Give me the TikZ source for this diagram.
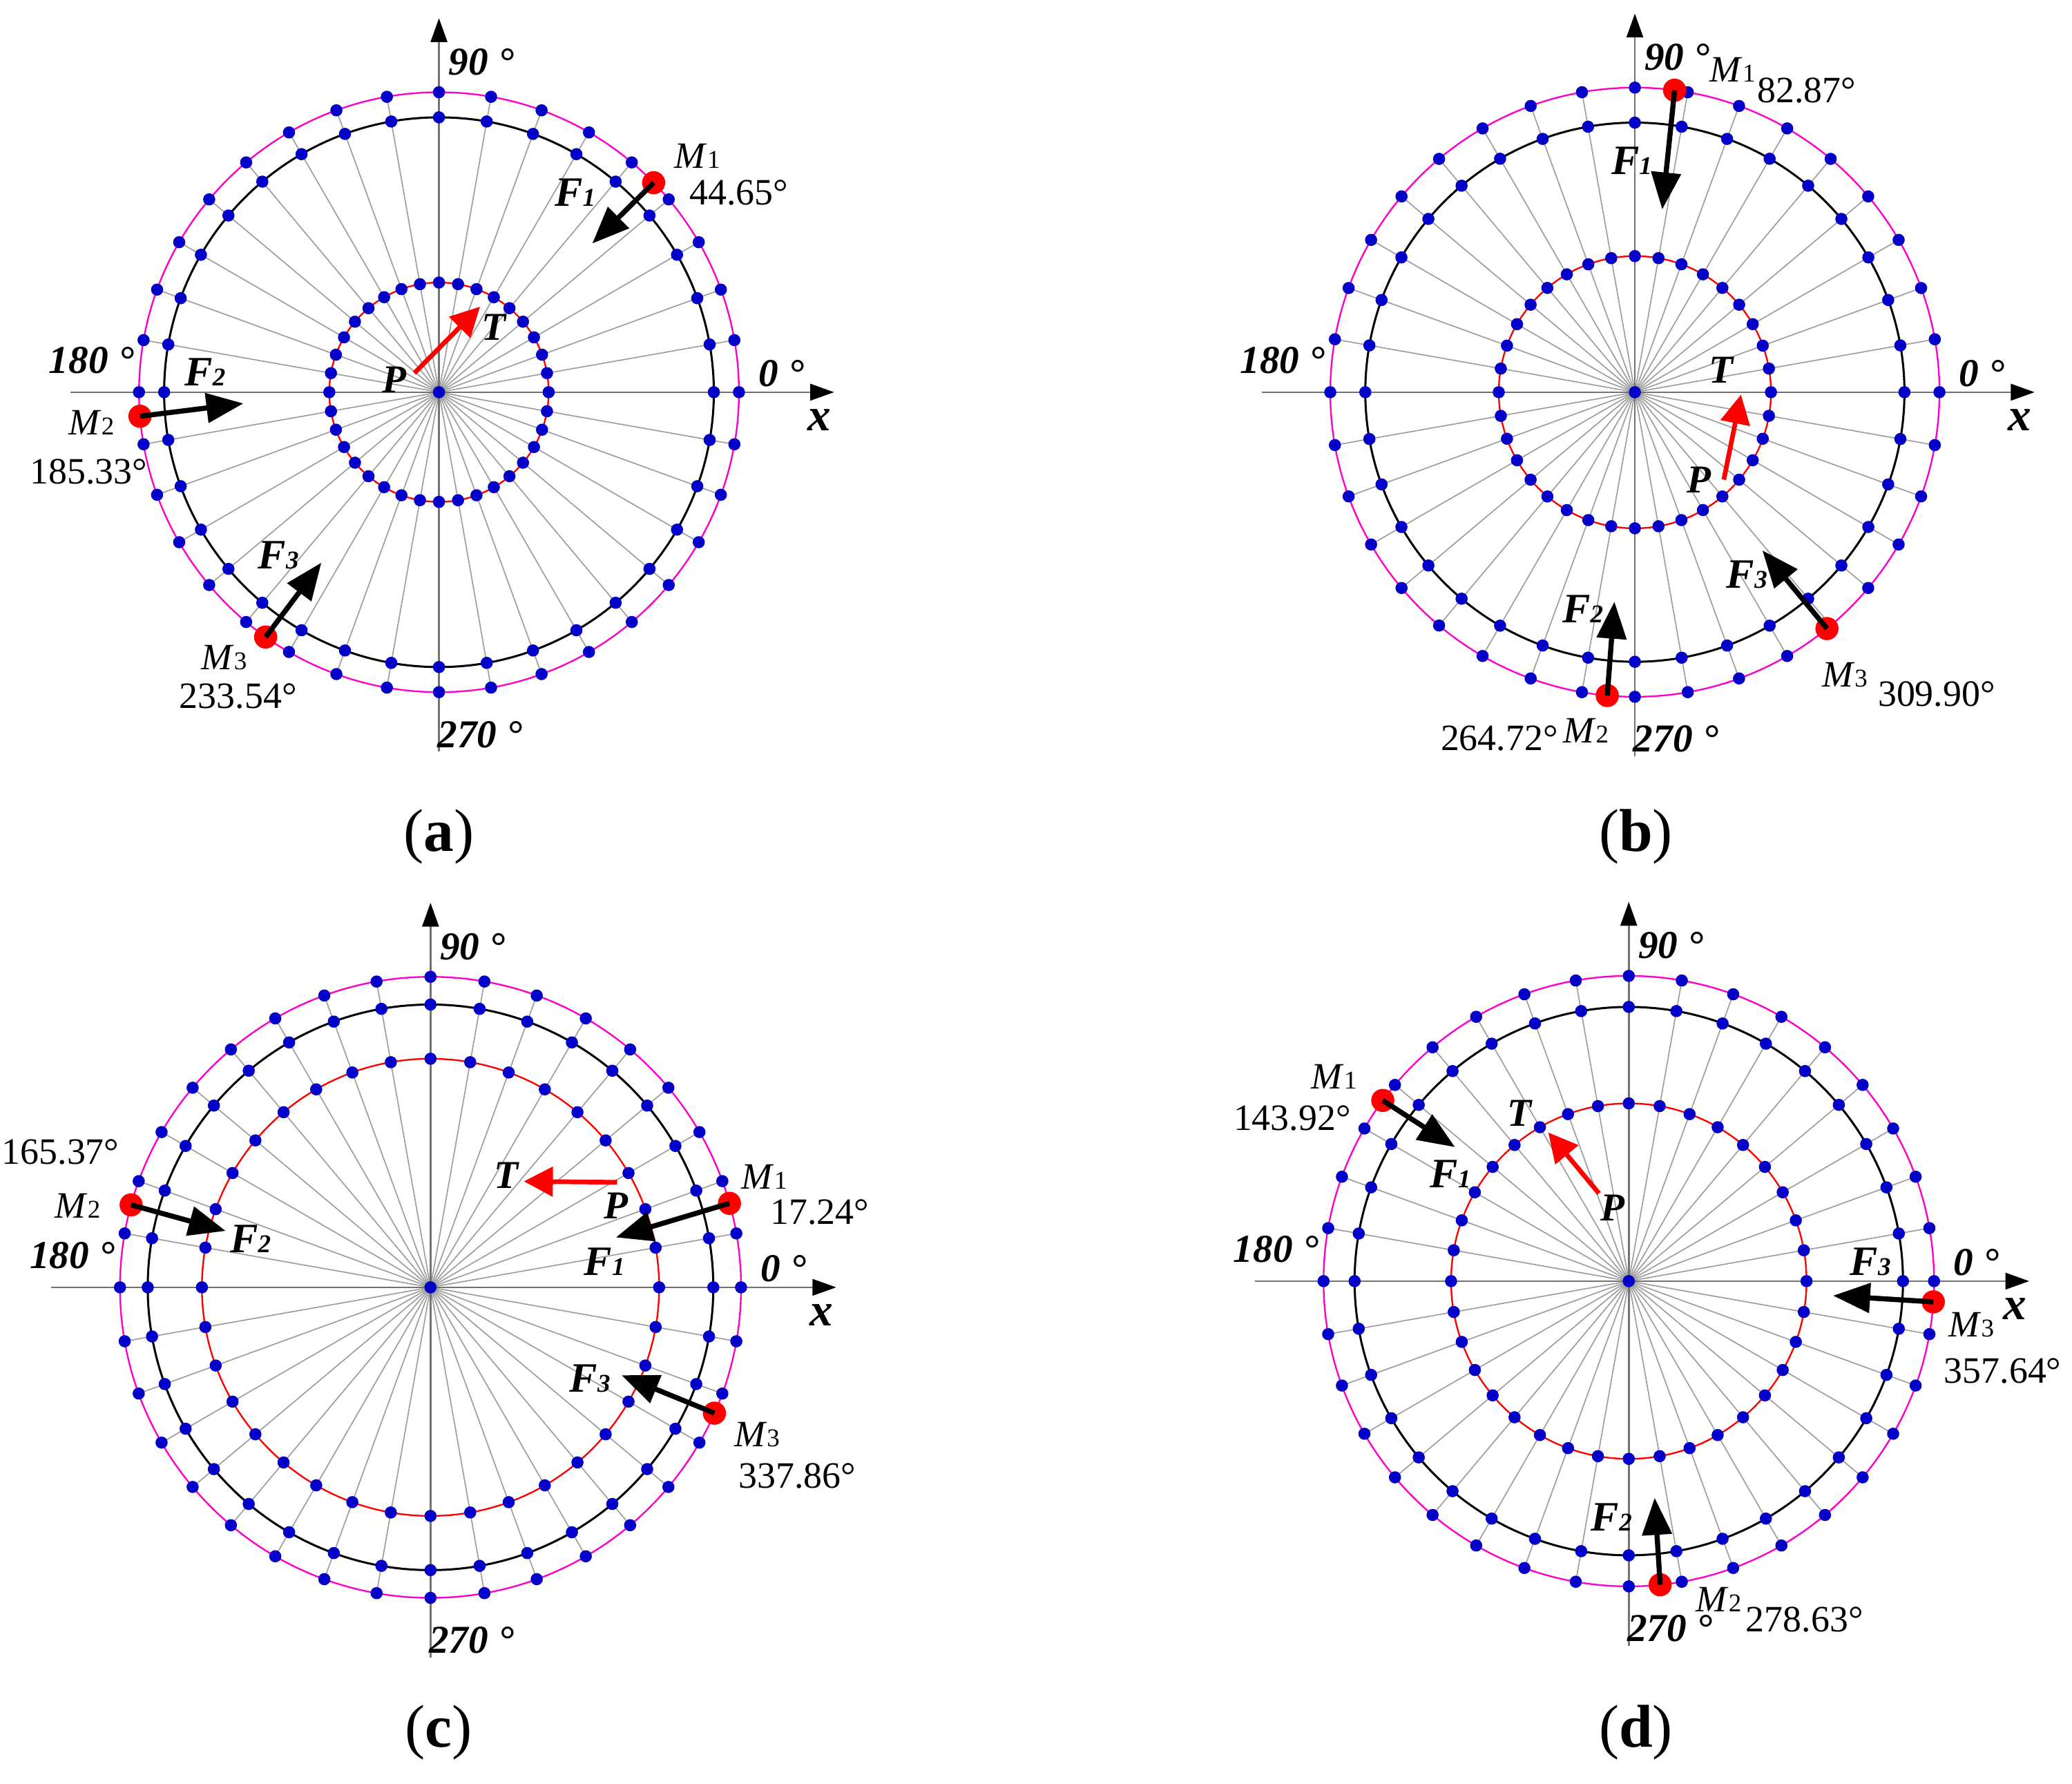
\documentclass[tikz,border=0pt]{standalone}
\usepackage{fontspec}
\setmainfont{Liberation Serif}
\usetikzlibrary{arrows.meta}

\definecolor{dotblue}{RGB}{0,0,200}
\definecolor{ringpink}{RGB}{255,0,200}

\newcommand{\subidx}[1]{{\fontsize{5.5}{6}\selectfont #1}}

% spokes, rings, dots, axes and axis labels of one panel
% #1 inner radius, #2 middle radius, #3 outer radius, #4 panel letter
\newcommand{\ringgrid}[4]{%
    \foreach \angv in {0,10,...,350}
        \draw [spoke] (0,0) -- (\angv:#3);
    \draw [innerring] (0,0) circle [radius=#1];
    \draw [midring] (0,0) circle [radius=#2];
    \draw [outerring] (0,0) circle [radius=#3];
    \draw [axisline] (-#3-52,0) -- (#3+72,0);
    \draw [axisline] (0,-#3-45) -- (0,#3+56);
    \foreach \angv in {0,10,...,350} {
        \fill [dotblue] (\angv:#1) circle [radius=4.6];
        \fill [dotblue] (\angv:#2) circle [radius=4.6];
        \fill [dotblue] (\angv:#3) circle [radius=4.6];
    }
    \fill [dotblue] (0,0) circle [radius=4.6];
    \node [axlbl] (deg0#4) at (#3+32,14) {0 °};
    \node [axlbl] (deg90#4) at (32,#3+23) {90 °};
    \node [axlbl] (deg180#4) at (-#3-36,24) {180 °};
    \node [axlbl] (deg270#4) at (31,-#3-32) {270 °};
    \node [xlbl] (xname#4) at (#3+61,-21) {x};
}

\begin{document}
\begin{tikzpicture}[
        x=0.01cm, y=0.01cm,
        spoke/.style = {draw=black!38, line width=0.25pt},
        innerring/.style = {draw=red, line width=0.35pt},
        midring/.style = {draw=black, line width=0.45pt},
        outerring/.style = {draw=ringpink, line width=0.35pt},
        axisline/.style = {draw=black!55, line width=0.4pt, -{Triangle[length=0.18cm, width=0.125cm, color=black]}},
        mdot/.style = {circle, fill=red, inner sep=0pt, minimum size=0.175cm},
        force/.style = {draw=black, line width=1.1pt, -{Triangle[length=0.28cm, width=0.22cm]}},
        torque/.style = {draw=red, line width=1pt, -{Triangle[length=0.22cm, width=0.22cm]}},
        axlbl/.style = {font=\fontsize{8.5}{10}\selectfont\bfseries\itshape},
        xlbl/.style = {font=\fontsize{10}{12}\selectfont\bfseries\itshape},
        flbl/.style = {font=\fontsize{9}{11}\selectfont\bfseries\itshape},
        ptlbl/.style = {font=\fontsize{8.5}{10}\selectfont\bfseries\itshape},
        mlbl/.style = {font=\fontsize{8}{9.6}\selectfont},
        anglbl/.style = {font=\fontsize{8}{9.6}\selectfont},
        caplbl/.style = {font=\fontsize{13}{15}\selectfont}
    ]
    \useasboundingbox (0,0) rectangle (1568,1350);

    % (a)
    \begin{scope}[shift={(332.2,1053.2)}]
        \ringgrid{83}{208}{227}{a}
        \node [mdot] (ma1) at (44.3:227) {};
        \node [mdot] (ma2) at (184.6:227) {};
        \node [mdot] (ma3) at (234.7:227) {};
        \coordinate (fa1) at (116,112.5);
        \coordinate (fa2) at (-148,-8.5);
        \coordinate (fa3) at (-89,-129);
        \path [force] (ma1.center) -- (fa1);
        \path [force] (ma2.center) -- (fa2);
        \path [force] (ma3.center) -- (fa3);
        \coordinate (pa) at (-18.6,14.5);
        \coordinate (ta) at (31.1,64.7);
        \path [torque] (pa) -- (ta);
        \node [flbl] (lfa1) at (103,151) {F\subidx{1}};
        \node [flbl] (lfa2) at (-177,15) {F\subidx{2}};
        \node [flbl] (lfa3) at (-121.5,-123.5) {F\subidx{3}};
        \node [mlbl] (lma1) at (195.6,178.8) {\textit{M}\subidx{1}};
        \node [mlbl] (lma2) at (-263,-23) {\textit{M}\subidx{2}};
        \node [mlbl] (lma3) at (-162.6,-201) {\textit{M}\subidx{3}};
        \node [anglbl] (aa1) at (227,151) {44.65°};
        \node [anglbl] (aa2) at (-265,-60) {185.33°};
        \node [anglbl] (aa3) at (-152,-230) {233.54°};
        \node [ptlbl] (lpa) at (-34,9.3) {P};
        \node [ptlbl] (lta) at (41.6,49.4) {T};
    \end{scope}

    % (b)
    \begin{scope}[shift={(1237.2,1053.2)}]
        \ringgrid{103}{204}{230.5}{b}
        \node [mdot] (mb1) at (82.5:230.5) {};
        \node [mdot] (mb2) at (264.8:230.5) {};
        \node [mdot] (mb3) at (309.1:230.5) {};
        \coordinate (fb1) at (20.7,138.3);
        \coordinate (fb2) at (-15.5,-158.5);
        \coordinate (fb3) at (96.5,-119.7);
        \path [force] (mb1.center) -- (fb1);
        \path [force] (mb2.center) -- (fb2);
        \path [force] (mb3.center) -- (fb3);
        \coordinate (pb) at (67.3,-66.2);
        \coordinate (tb) at (80.3,-1.8);
        \path [torque] (pb) -- (tb);
        \node [flbl] (lfb1) at (-2.4,175.2) {F\subidx{1}};
        \node [flbl] (lfb2) at (-39.4,-164) {F\subidx{2}};
        \node [flbl] (lfb3) at (84.8,-138.2) {F\subidx{3}};
        \node [mlbl] (lmb1) at (74,244) {\textit{M}\subidx{1}};
        \node [mlbl] (lmb2) at (-37,-256) {\textit{M}\subidx{2}};
        \node [mlbl] (lmb3) at (158.8,-213.8) {\textit{M}\subidx{3}};
        \node [anglbl] (ab1) at (130,228.6) {82.87°};
        \node [anglbl] (ab2) at (-102.6,-261.7) {264.72°};
        \node [anglbl] (ab3) at (228.3,-228.5) {309.90°};
        \node [ptlbl] (lpb) at (48.6,-66.2) {P};
        \node [ptlbl] (ltb) at (65.1,16.6) {T};
    \end{scope}

    % (c)
    \begin{scope}[shift={(325.8,375.8)}]
        \ringgrid{173}{214}{235}{c}
        \node [mdot] (mc1) at (15.7:235) {};
        \node [mdot] (mc2) at (164.6:235) {};
        \node [mdot] (mc3) at (336.1:235) {};
        \coordinate (fc1) at (140.3,37.8);
        \coordinate (fc2) at (-155,42.7);
        \coordinate (fc3) at (144.6,-66.5);
        \path [force] (mc1.center) -- (fc1);
        \path [force] (mc2.center) -- (fc2);
        \path [force] (mc3.center) -- (fc3);
        \coordinate (pc) at (141.2,79.5);
        \coordinate (tc) at (70.6,80.2);
        \path [torque] (pc) -- (tc);
        \node [flbl] (lfc1) at (131.6,19.4) {F\subidx{1}};
        \node [flbl] (lfc2) at (-136.3,36.8) {F\subidx{2}};
        \node [flbl] (lfc3) at (120.7,-69) {F\subidx{3}};
        \node [mlbl] (lmc1) at (252.6,83.9) {\textit{M}\subidx{1}};
        \node [mlbl] (lmc2) at (-267,61.8) {\textit{M}\subidx{2}};
        \node [mlbl] (lmc3) at (247,-111.5) {\textit{M}\subidx{3}};
        \node [anglbl] (ac1) at (294.5,56.9) {17.24°};
        \node [anglbl] (ac2) at (-280,102.4) {165.37°};
        \node [anglbl] (ac3) at (277.5,-142.8) {337.86°};
        \node [ptlbl] (lpc) at (140.3,61.8) {P};
        \node [ptlbl] (ltc) at (57.5,84.7) {T};
    \end{scope}

    % (d)
    \begin{scope}[shift={(1232.6,380.5)}]
        \ringgrid{134.5}{207.5}{231}{d}
        \node [mdot] (md1) at (143.7:231) {};
        \node [mdot] (md2) at (275.9:231) {};
        \node [mdot] (md3) at (356.1:231) {};
        \coordinate (fd1) at (-131.5,101.4);
        \coordinate (fd2) at (19.6,-164);
        \coordinate (fd3) at (154.6,-11);
        \path [force] (md1.center) -- (fd1);
        \path [force] (md2.center) -- (fd2);
        \path [force] (md3.center) -- (fd3);
        \coordinate (pd) at (-22.6,66.4);
        \coordinate (td) at (-60.9,112.5);
        \path [torque] (pd) -- (td);
        \node [flbl] (lfd1) at (-135,81.1) {F\subidx{1}};
        \node [flbl] (lfd2) at (-13,-178.8) {F\subidx{2}};
        \node [flbl] (lfd3) at (182.9,14.7) {F\subidx{3}};
        \node [mlbl] (lmd1) at (-222.9,154.9) {\textit{M}\subidx{1}};
        \node [mlbl] (lmd2) at (68,-241) {\textit{M}\subidx{2}};
        \node [mlbl] (lmd3) at (259.2,-33.2) {\textit{M}\subidx{3}};
        \node [anglbl] (ad1) at (-254.8,123.5) {143.92°};
        \node [anglbl] (ad2) at (133,-256.2) {278.63°};
        \node [anglbl] (ad3) at (283,-68.2) {357.64°};
        \node [ptlbl] (lpd) at (-12.2,55.3) {P};
        \node [ptlbl] (ltd) at (-82.7,127.2) {T};
    \end{scope}

    \node [caplbl] (capa) at (332,717) {(\textbf{a})};
    \node [caplbl] (capb) at (1238,717) {(\textbf{b})};
    \node [caplbl] (capc) at (332,39) {(\textbf{c})};
    \node [caplbl] (capd) at (1238,39) {(\textbf{d})};

\end{tikzpicture}
\end{document}
